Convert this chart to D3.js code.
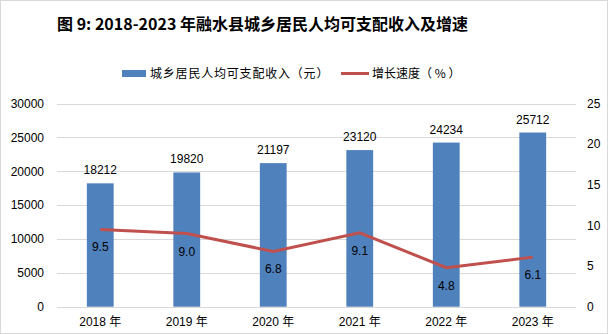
<!DOCTYPE html>
<html><head><meta charset="utf-8">
<script src="https://cdn.jsdelivr.net/npm/d3@7"></script>
<style>body{margin:0;background:#fff}svg{display:block}</style>
</head><body>
<svg id="c" width="608" height="334"></svg>
<script>
const categories = ["2018 年","2019 年","2020 年","2021 年","2022 年","2023 年"];
const income = [18212,19820,21197,23120,24234,25712];
const growth = [9.5,9.0,6.8,9.1,4.8,6.1];
const leftTicks = [0,5000,10000,15000,20000,25000,30000];
const rightTicks = [0,5,10,15,20,25];
const title = "图 9: 2018-2023 年融水县城乡居民人均可支配收入及增速";
const legendLabels = ["城乡居民人均可支配收入（元）","增长速度（ % ）"];

const svg = d3.select("#c");
const W=608,H=334;
const m={l:57,r:576,t:103.5,b:306.7};
const font="'Liberation Sans', Arial, sans-serif";
const cjk="'Liberation Sans','Noto Sans CJK SC',sans-serif";

svg.append("rect").attr("x",0.5).attr("y",0.5).attr("width",W-1).attr("height",H-1)
  .attr("fill","#fff").attr("stroke","#d9d9d9");

svg.append("text").attr("x",57).attr("y",30).attr("font-family","'Noto Sans CJK SC',sans-serif")
  .attr("font-weight","bold").attr("font-size",16).attr("fill","#000").text(title);

const x=d3.scaleBand().domain(categories).range([m.l,m.r]).paddingInner(0.69).paddingOuter(0.345);
const y=d3.scaleLinear().domain([0,30000]).range([m.b,m.t]);
const y2=d3.scaleLinear().domain([0,25]).range([m.b,m.t]);

// gridlines
svg.append("g").selectAll("line").data(leftTicks).join("line")
  .attr("x1",m.l).attr("x2",m.r).attr("y1",d=>Math.round(y(d))+0.5).attr("y2",d=>Math.round(y(d))+0.5)
  .attr("stroke","#d9d9d9").attr("stroke-width",1);

// left axis
const la=svg.append("g").attr("transform",`translate(${m.l},0)`)
  .call(d3.axisLeft(y).tickValues(leftTicks).tickSize(0).tickPadding(13).tickFormat(d3.format("d")));
la.select(".domain").remove();
la.selectAll("text").attr("font-family",font).attr("font-size",12).attr("fill","#000");

// right axis
const ra=svg.append("g").attr("transform",`translate(${m.r},0)`)
  .call(d3.axisRight(y2).tickValues(rightTicks).tickSize(0).tickPadding(11));
ra.select(".domain").remove();
ra.selectAll("text").attr("font-family",font).attr("font-size",12).attr("fill","#000");

// bottom axis
const ba=svg.append("g").attr("transform",`translate(0,${m.b})`)
  .call(d3.axisBottom(x).tickSize(0).tickPadding(11));
ba.select(".domain").remove();
ba.selectAll("text").attr("font-family",cjk).attr("font-size",12).attr("fill","#000");

// bars
svg.append("g").selectAll("rect").data(income).join("rect")
  .attr("x",(d,i)=>x(categories[i])).attr("width",x.bandwidth())
  .attr("y",d=>y(d)).attr("height",d=>y(0)-y(d)).attr("fill","#4F81BD");

svg.append("g").selectAll("text").data(income).join("text")
  .attr("x",(d,i)=>x(categories[i])+x.bandwidth()/2).attr("y",d=>y(d)-9)
  .attr("text-anchor","middle").attr("font-family",font).attr("font-size",12).attr("fill","#000")
  .text(d=>d);

// line
const cx=(i)=>x(categories[i])+x.bandwidth()/2;
svg.append("path").datum(growth)
  .attr("d",d3.line().x((d,i)=>cx(i)).y(d=>y2(d)))
  .attr("fill","none").attr("stroke","#C0504D").attr("stroke-width",3);

svg.append("g").selectAll("text").data(growth).join("text")
  .attr("x",(d,i)=>cx(i)).attr("y",d=>y2(d)+22)
  .attr("text-anchor","middle").attr("font-family",font).attr("font-size",12).attr("fill","#000")
  .text(d=>d.toFixed(1));

// legend
const lg=svg.append("g");
lg.append("rect").attr("x",122).attr("y",70).attr("width",24).attr("height",7).attr("fill","#4F81BD");
lg.append("text").attr("x",150).attr("y",78).attr("font-family","'Noto Sans CJK SC',sans-serif")
  .attr("font-size",12).attr("letter-spacing",0.8).attr("fill","#000").text(legendLabels[0]);
lg.append("line").attr("x1",341).attr("x2",369).attr("y1",73.5).attr("y2",73.5)
  .attr("stroke","#C0504D").attr("stroke-width",3);
lg.append("text").attr("x",372).attr("y",78).attr("font-family","'Noto Sans CJK SC',sans-serif")
  .attr("font-size",12).attr("fill","#000").text(legendLabels[1]);
</script>
</body></html>
